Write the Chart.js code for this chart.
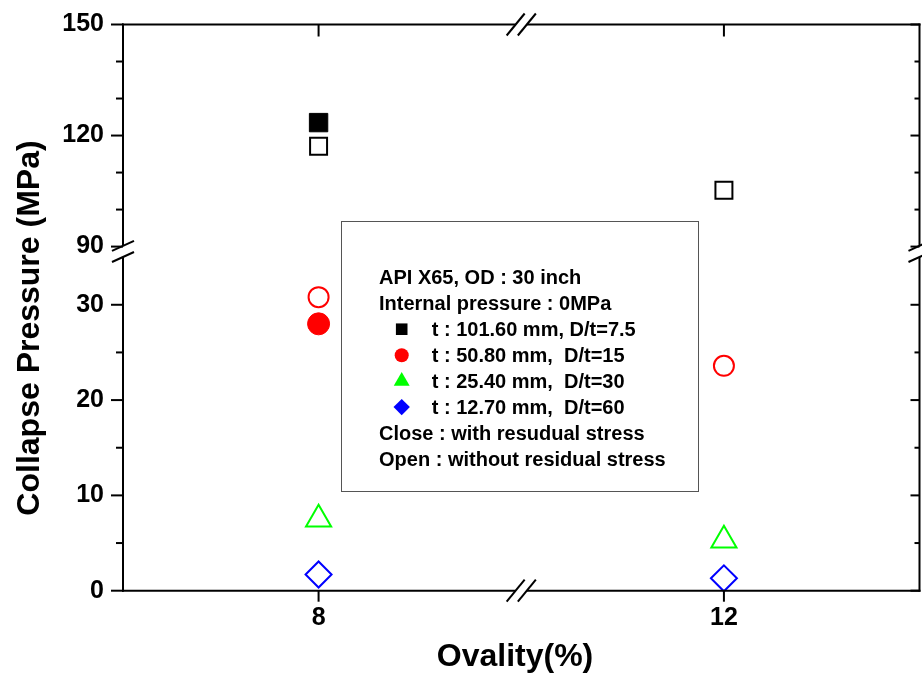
<!DOCTYPE html>
<html>
<head>
<meta charset="utf-8">
<script src="https://cdn.jsdelivr.net/npm/chart.js@4/dist/chart.umd.min.js"></script>
<style>
html,body{margin:0;padding:0;background:#fff;}
#wrap{width:922px;height:679px;position:relative;}
</style>
</head>
<body>
<div id="wrap"><canvas id="c" width="922" height="679"></canvas></div>
<script>
// ---------- data ----------
const ovality = [8, 12];                 // x categories (%)
const xTicks = [8, 12];
const yLowTicks = [0, 10, 20, 30];
const yLowMinor = [5, 15, 25];
const yHighTicks = [90, 120, 150];
const yHighMinor = [100, 110, 130, 140];

// collapse pressure (MPa) at ovality 8 and 12 (null = no point)
const closedT101 = [123.5, null];   // t=101.60 mm, with residual stress
const openT101   = [117.1, 105.2];  // t=101.60 mm, without residual stress
const closedT50  = [28.0, null];    // t=50.80 mm, with residual stress
const openT50    = [30.8, 23.6];    // t=50.80 mm, without residual stress
const openT25    = [7.5, 5.3];      // t=25.40 mm, without residual stress
const openT12    = [1.7, 1.3];      // t=12.70 mm, without residual stress

const headerLines = ["API X65, OD : 30 inch", "Internal pressure : 0MPa"];
const seriesLabels = ["t : 101.60 mm, D/t=7.5", "t : 50.80 mm,  D/t=15", "t : 25.40 mm,  D/t=30", "t : 12.70 mm,  D/t=60"];
const seriesColors = ["#000000", "#ff0000", "#00ff00", "#0000ff"];
const seriesStyles = ["rect", "circle", "triangle", "rectRot"];
const footerLines = ["Close : with resudual stress", "Open : without residual stress"];
const xTitle = "Ovality(%)";
const yTitle = "Collapse Pressure (MPa)";

// ---------- helpers ----------
const FONT = "'Liberation Sans', Arial, Helvetica, sans-serif";
function pts(vals) {
  return ovality.map((x, i) => ({x: x, y: vals[i]})).filter(p => p.y !== null);
}
function ds(vals, axis, color, style, radius, open) {
  return {
    data: pts(vals),
    yAxisID: axis,
    showLine: false,
    clip: false,
    pointStyle: style,
    pointRadius: radius,
    pointHoverRadius: radius,
    pointBorderWidth: open ? 2 : 1,
    pointBorderColor: color,
    pointBackgroundColor: open ? 'rgba(0,0,0,0)' : color
  };
}

function drawMarker(ctx, style, r, x, y, color) {
  ctx.save();
  ctx.fillStyle = color; ctx.strokeStyle = color; ctx.lineWidth = 0;
  if (window.Chart && Chart.helpers && Chart.helpers.drawPoint) {
    Chart.helpers.drawPoint(ctx, {pointStyle: style, radius: r, rotation: 0, borderWidth: 0}, x, y);
  } else {
    ctx.beginPath();
    if (style === 'circle') ctx.arc(x, y, r, 0, Math.PI * 2);
    else if (style === 'rect') { const s = r * Math.SQRT1_2; ctx.rect(x - s, y - s, 2 * s, 2 * s); }
    else if (style === 'triangle') { ctx.moveTo(x, y - r); ctx.lineTo(x + r * 0.866, y + r / 2); ctx.lineTo(x - r * 0.866, y + r / 2); ctx.closePath(); }
    else { ctx.moveTo(x - r, y); ctx.lineTo(x, y - r); ctx.lineTo(x + r, y); ctx.lineTo(x, y + r); ctx.closePath(); }
    ctx.fill();
  }
  ctx.restore();
}

const framePlugin = {
  id: 'frame',
  afterDraw(chart) {
    const ctx = chart.ctx;
    const sx = chart.scales.x, yl = chart.scales.y, yh = chart.scales.y2;
    const L = sx.left, R = sx.right, T = yh.top, B = yl.bottom;
    const yb = yl.top;                       // y-axis break
    const xb = sx.getPixelForValue(10);      // x-axis break
    ctx.save();
    ctx.strokeStyle = '#000';
    ctx.lineWidth = 2;
    ctx.lineCap = 'butt';
    const line = (x1, y1, x2, y2) => { ctx.beginPath(); ctx.moveTo(x1, y1); ctx.lineTo(x2, y2); ctx.stroke(); };
    const g = 5.6;
    // left & right axis with breaks
    [L, R].forEach(ax => {
      line(ax, T - 1, ax, yb - g);
      line(ax, yb + g, ax, B + 1);
      line(ax - 11, yb - g + 5, ax + 11, yb - g - 5);
      line(ax - 11, yb + g + 5, ax + 11, yb + g - 5);
    });
    // bottom & top axis with breaks
    [B, T].forEach(ay => {
      line(L - 1, ay, xb - g, ay);
      line(xb + g, ay, R + 1, ay);
      line(xb - g - 9, ay + 11, xb - g + 9, ay - 11);
      line(xb + g - 9, ay + 11, xb + g + 9, ay - 11);
    });
    // y ticks
    const yt = (scale, vals, lenL, lenR) => vals.forEach(v => {
      const p = scale.getPixelForValue(v);
      line(L - lenL, p, L, p);
      line(R - lenR, p, R, p);
    });
    yt(yl, yLowTicks, 12, 9); yt(yl, yLowMinor, 7, 5);
    yt(yh, yHighTicks, 12, 9); yt(yh, yHighMinor, 7, 5);
    // x ticks
    xTicks.forEach(v => {
      const p = sx.getPixelForValue(v);
      line(p, B, p, B + 11);
      line(p, T, p, T + 12);
    });
    // axis titles
    ctx.fillStyle = '#000';
    ctx.font = 'bold 32px ' + FONT;
    ctx.textAlign = 'center';
    ctx.textBaseline = 'alphabetic';
    ctx.fillText(xTitle, 515, 666);
    ctx.save();
    ctx.translate(39, 328);
    ctx.rotate(-Math.PI / 2);
    ctx.fillText(yTitle, 0, 0);
    ctx.restore();
    // legend box
    ctx.lineWidth = 1;
    ctx.strokeStyle = '#555';
    ctx.strokeRect(341.5, 221.5, 357, 270);
    ctx.fillStyle = '#000';
    ctx.font = 'bold 20px ' + FONT;
    ctx.textAlign = 'left';
    const base0 = 284, step = 25.96, tx = 379, mx = 401.7, sxT = 431.7;
    let row = 0;
    headerLines.forEach(t => { ctx.fillText(t, tx, base0 + step * row); row++; });
    const mr = {rect: 8.2, circle: 7, triangle: 9.2, rectRot: 8.2};
    seriesLabels.forEach((t, i) => {
      const by = base0 + step * row;
      drawMarker(ctx, seriesStyles[i], mr[seriesStyles[i]], mx, by - 6.7, seriesColors[i]);
      ctx.fillStyle = '#000';
      ctx.fillText(t, sxT, by);
      row++;
    });
    footerLines.forEach(t => { ctx.fillText(t, tx, base0 + step * row); row++; });
    ctx.restore();
  }
};

const tickFont = {family: FONT, size: 25, weight: 'bold'};
const fixedTicks = arr => (scale => { scale.ticks = arr.map(v => ({value: v})); });
const noPad = s => { s.paddingTop = 0; s.paddingBottom = 0; s.paddingLeft = 0; s.paddingRight = 0; };

new Chart(document.getElementById('c'), {
  type: 'scatter',
  data: {
    datasets: [
      ds(closedT101, 'y2', '#000000', 'rect', 13, false),
      ds(openT101, 'y2', '#000000', 'rect', 12, true),
      ds(closedT50, 'y', '#ff0000', 'circle', 11, false),
      ds(openT50, 'y', '#ff0000', 'circle', 10, true),
      ds(openT25, 'y', '#00ff00', 'triangle', 14.5, true),
      ds(openT12, 'y', '#0000ff', 'rectRot', 13, true)
    ]
  },
  options: {
    responsive: false,
    animation: false,
    events: [],
    layout: {autoPadding: false, padding: {top: 24.5, right: 2.5, left: 0, bottom: 0}},
    plugins: {legend: {display: false}, tooltip: {enabled: false}, title: {display: false}},
    scales: {
      x: {
        type: 'linear', position: 'bottom', min: 6.07, max: 13.93,
        afterBuildTicks: fixedTicks(xTicks),
        afterFit: s => { s.height = 88.3; noPad(s); },
        grid: {display: false, drawTicks: false},
        border: {display: false},
        ticks: {font: tickFont, color: '#000', padding: 12, maxRotation: 0}
      },
      y: {
        type: 'linear', position: 'left', stack: 'p', stackWeight: 339.3, weight: 0,
        min: 0, max: 35.6,
        afterBuildTicks: fixedTicks(yLowTicks),
        afterFit: s => { s.width = 123; noPad(s); },
        grid: {display: false, drawTicks: false},
        border: {display: false},
        ticks: {font: tickFont, color: '#000', padding: 19}
      },
      y2: {
        type: 'linear', position: 'left', stack: 'p', stackWeight: 226.9, weight: 1,
        min: 88.7, max: 150,
        afterBuildTicks: fixedTicks(yHighTicks),
        afterFit: s => { s.width = 123; noPad(s); },
        grid: {display: false, drawTicks: false},
        border: {display: false},
        ticks: {font: tickFont, color: '#000', padding: 19}
      }
    }
  },
  plugins: [framePlugin]
});
</script>
</body>
</html>
